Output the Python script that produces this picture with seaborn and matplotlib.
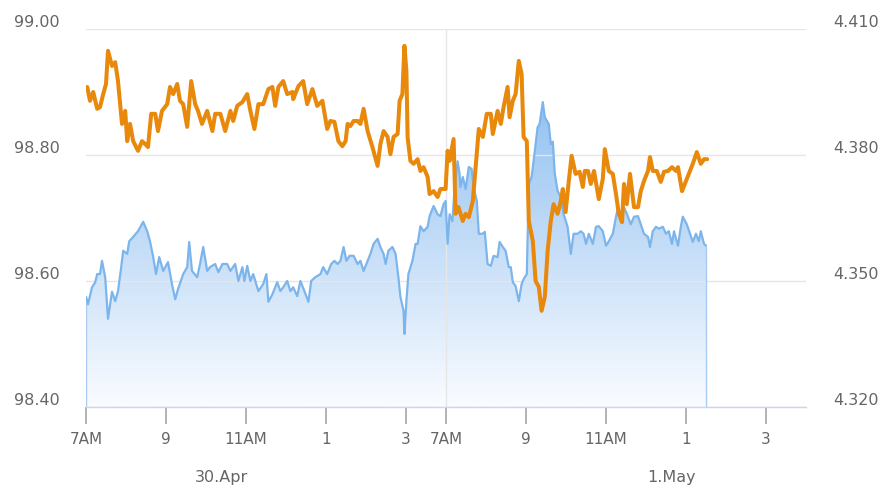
import numpy as np
import pandas as pd
import matplotlib.pyplot as plt
from matplotlib.colors import LinearSegmentedColormap
import seaborn as sns

# x = trading hours counted from 7AM 30.Apr (session 7AM-4PM, so 7AM 1.May sits at 9)
blue_x = [0.00, 0.05, 0.15, 0.23, 0.28, 0.35, 0.40, 0.48, 0.55, 0.65,
          0.73, 0.80, 0.88, 0.93, 1.03, 1.08, 1.18, 1.30, 1.43, 1.53,
          1.60, 1.68, 1.75, 1.83, 1.93, 2.05, 2.15, 2.23, 2.30, 2.43,
          2.53, 2.58, 2.65, 2.78, 2.85, 2.93, 3.03, 3.10, 3.23, 3.31,
          3.41, 3.53, 3.61, 3.73, 3.81, 3.91, 3.96, 4.03, 4.11, 4.18,
          4.31, 4.43, 4.51, 4.56, 4.66, 4.78, 4.86, 4.93, 5.03, 5.11,
          5.18, 5.28, 5.36, 5.46, 5.56, 5.63, 5.73, 5.86, 5.93, 6.03,
          6.13, 6.21, 6.29, 6.36, 6.44, 6.51, 6.59, 6.69, 6.79, 6.86,
          6.94, 7.04, 7.11, 7.19, 7.29, 7.36, 7.44, 7.49, 7.56, 7.66,
          7.74, 7.81, 7.86, 7.94, 7.96, 8.01, 8.06, 8.16, 8.24, 8.29,
          8.36, 8.44, 8.54, 8.59, 8.69, 8.79, 8.86, 8.94, 8.99, 9.04,
          9.09, 9.16, 9.21, 9.29, 9.34, 9.36, 9.42, 9.49, 9.57, 9.64,
          9.69, 9.77, 9.82, 9.92, 9.97, 10.04, 10.12, 10.19, 10.29, 10.34,
          10.42, 10.49, 10.57, 10.62, 10.67, 10.74, 10.82, 10.89, 10.94, 11.02,
          11.07, 11.14, 11.22, 11.29, 11.34, 11.42, 11.47, 11.57, 11.62, 11.67,
          11.72, 11.79, 11.87, 11.94, 12.04, 12.12, 12.19, 12.29, 12.37, 12.44,
          12.50, 12.57, 12.67, 12.75, 12.82, 12.92, 13.00, 13.07, 13.17, 13.25,
          13.30, 13.37, 13.45, 13.55, 13.62, 13.70, 13.80, 13.87, 13.95, 14.05,
          14.10, 14.17, 14.25, 14.32, 14.42, 14.50, 14.57, 14.65, 14.70, 14.80,
          14.87, 14.92, 15.02, 15.10, 15.17, 15.25, 15.32, 15.37, 15.45, 15.50]
blue_y = [98.575, 98.563, 98.590, 98.598, 98.611, 98.611, 98.632, 98.606, 98.540, 98.583,
          98.568, 98.584, 98.622, 98.648, 98.643, 98.663, 98.670, 98.679, 98.694, 98.679,
          98.663, 98.638, 98.611, 98.638, 98.616, 98.630, 98.595, 98.571, 98.587, 98.611,
          98.622, 98.662, 98.616, 98.606, 98.627, 98.654, 98.616, 98.622, 98.627, 98.614,
          98.627, 98.627, 98.616, 98.627, 98.600, 98.622, 98.600, 98.624, 98.600, 98.611,
          98.584, 98.595, 98.611, 98.567, 98.579, 98.598, 98.584, 98.590, 98.600, 98.584,
          98.590, 98.576, 98.600, 98.584, 98.567, 98.600, 98.606, 98.611, 98.622, 98.611,
          98.627, 98.632, 98.627, 98.632, 98.654, 98.632, 98.640, 98.640, 98.627, 98.632,
          98.616, 98.632, 98.643, 98.659, 98.667, 98.654, 98.643, 98.627, 98.648, 98.654,
          98.643, 98.606, 98.575, 98.552, 98.516, 98.568, 98.611, 98.632, 98.659, 98.659,
          98.687, 98.679, 98.686, 98.703, 98.719, 98.706, 98.703, 98.722, 98.727, 98.659,
          98.706, 98.695, 98.743, 98.790, 98.770, 98.749, 98.765, 98.746, 98.781, 98.778,
          98.749, 98.727, 98.675, 98.675, 98.678, 98.627, 98.624, 98.640, 98.638, 98.662,
          98.654, 98.648, 98.622, 98.622, 98.598, 98.592, 98.568, 98.595, 98.603, 98.611,
          98.754, 98.765, 98.806, 98.844, 98.849, 98.884, 98.860, 98.849, 98.817, 98.821,
          98.770, 98.743, 98.733, 98.706, 98.686, 98.643, 98.675, 98.675, 98.679, 98.675,
          98.659, 98.675, 98.659, 98.686, 98.687, 98.679, 98.656, 98.663, 98.675, 98.702,
          98.717, 98.695, 98.717, 98.702, 98.690, 98.702, 98.703, 98.690, 98.675, 98.670,
          98.654, 98.679, 98.686, 98.683, 98.686, 98.675, 98.679, 98.659, 98.679, 98.656,
          98.686, 98.702, 98.690, 98.675, 98.662, 98.675, 98.663, 98.679, 98.659, 98.656]

orange_x = [0.03, 0.10, 0.18, 0.28, 0.35, 0.43, 0.50, 0.55, 0.65, 0.73,
            0.80, 0.90, 0.98, 1.03, 1.10, 1.18, 1.30, 1.40, 1.48, 1.55,
            1.63, 1.73, 1.80, 1.90, 2.03, 2.10, 2.18, 2.28, 2.35, 2.43,
            2.53, 2.63, 2.73, 2.80, 2.90, 3.03,
            3.16, 3.23, 3.36, 3.48, 3.61, 3.68, 3.78, 3.91, 4.03, 4.11,
            4.21, 4.31, 4.43, 4.56, 4.66, 4.73, 4.81, 4.93, 5.03, 5.16,
            5.18, 5.31, 5.43, 5.53, 5.66, 5.78, 5.91, 6.03, 6.11, 6.21,
            6.31, 6.41, 6.49, 6.54, 6.61, 6.69, 6.79, 6.86, 6.94, 7.04,
            7.16, 7.29, 7.36, 7.44, 7.54, 7.61, 7.69, 7.79, 7.84, 7.91,
            7.96, 8.01, 8.04, 8.11, 8.19, 8.29, 8.36, 8.44, 8.54, 8.59,
            8.69, 8.79, 8.86, 8.99, 9.04, 9.09, 9.19, 9.24,
            9.31, 9.42, 9.49, 9.57, 9.67, 9.74, 9.82, 9.92, 10.02, 10.12,
            10.17, 10.29, 10.37, 10.44, 10.54, 10.59, 10.67, 10.74, 10.82, 10.89,
            10.94, 11.02, 11.07, 11.17, 11.24, 11.32, 11.39, 11.47, 11.54, 11.62,
            11.69, 11.79, 11.87, 11.92, 11.99, 12.07, 12.14, 12.24, 12.34, 12.42,
            12.47,
            12.55, 12.62, 12.70, 12.82, 12.92, 12.97, 13.07, 13.17, 13.25, 13.32,
            13.40, 13.45, 13.52, 13.60, 13.70, 13.80, 13.87, 13.95, 14.05, 14.10,
            14.17, 14.27, 14.37, 14.45, 14.55, 14.65, 14.75, 14.80, 14.90, 15.00,
            15.07, 15.17, 15.27, 15.37, 15.45, 15.53]
orange_y = [4.3962, 4.3929, 4.3950, 4.3910, 4.3914, 4.3945, 4.3969, 4.4048, 4.4012, 4.4021,
            4.3976, 4.3874, 4.3905, 4.3833, 4.3874, 4.3833, 4.3810, 4.3833, 4.3826, 4.3819,
            4.3898, 4.3898, 4.3857, 4.3905, 4.3921, 4.3962, 4.3945, 4.3969, 4.3929, 4.3921,
            4.3867, 4.3976, 4.3921, 4.3905, 4.3874, 4.3905,
            4.3857, 4.3898, 4.3898, 4.3857, 4.3905, 4.3881, 4.3917, 4.3926, 4.3945, 4.3905,
            4.3862, 4.3921, 4.3921, 4.3957, 4.3962, 4.3917, 4.3962, 4.3976, 4.3945, 4.3950,
            4.3933, 4.3964, 4.3976, 4.3921, 4.3957, 4.3917, 4.3929, 4.3862, 4.3881, 4.3879,
            4.3833, 4.3821, 4.3833, 4.3874, 4.3869, 4.3881, 4.3881, 4.3874, 4.3910, 4.3857,
            4.3819, 4.3774, 4.3826, 4.3857, 4.3843, 4.3802, 4.3843, 4.3850, 4.3929, 4.3945,
            4.4060, 4.4000, 4.3843, 4.3786, 4.3779, 4.3790, 4.3762, 4.3771, 4.3748, 4.3707,
            4.3714, 4.3700, 4.3719, 4.3719, 4.3810, 4.3786, 4.3838, 4.3660,
            4.3676, 4.3643, 4.3660, 4.3652, 4.3690, 4.3771, 4.3862, 4.3843, 4.3898, 4.3898,
            4.3850, 4.3905, 4.3874, 4.3914, 4.3962, 4.3890, 4.3929, 4.3945, 4.4024, 4.3993,
            4.3843, 4.3833, 4.3643, 4.3595, 4.3500, 4.3486, 4.3429, 4.3462, 4.3571, 4.3643,
            4.3683, 4.3660, 4.3690, 4.3719, 4.3664, 4.3738, 4.3798, 4.3755, 4.3760, 4.3724,
            4.3762,
            4.3762, 4.3731, 4.3762, 4.3695, 4.3743, 4.3814, 4.3762, 4.3755, 4.3707, 4.3660,
            4.3640, 4.3731, 4.3683, 4.3755, 4.3676, 4.3676, 4.3714, 4.3738, 4.3762, 4.3795,
            4.3762, 4.3762, 4.3736, 4.3760, 4.3762, 4.3771, 4.3762, 4.3771, 4.3714, 4.3738,
            4.3755, 4.3779, 4.3807, 4.3779, 4.3790, 4.3790]

tick_pos = [0, 2, 4, 6, 8, 9, 11, 13, 15, 17]
tick_labels = ["7AM", "9", "11AM", "1", "3", "7AM", "9", "11AM", "1", "3"]
date_pos = [3.38, 14.65]
date_labels = ["30.Apr", "1.May"]
left_ticks = [98.40, 98.60, 98.80, 99.00]
right_ticks = [4.320, 4.350, 4.380, 4.410]

sns.set_theme(style="white")
plt.rcParams["font.family"] = ["DejaVu Sans"]

grey = "#666666"
fig = plt.figure(figsize=(8.81, 4.89), dpi=100)
ax = fig.add_axes([86 / 881, 1 - 408 / 489, 720 / 881, 378 / 489])
ax2 = ax.twinx()

blue = pd.DataFrame({"t": blue_x, "v": blue_y})
orange = pd.DataFrame({"t": orange_x, "v": orange_y})
y0, y1 = left_ticks[0], left_ticks[-1]

# gradient area under the blue series
area = ax.fill_between(blue.t, blue.v, y0, color="none", lw=0)
cmap = LinearSegmentedColormap.from_list("area", ["#fafcff", "#7cb4ee"])
grad = np.linspace(1, 0, 256).reshape(-1, 1)
img = ax.imshow(grad, cmap=cmap, aspect="auto", origin="upper",
                extent=[0, 18, y0, y1], zorder=1)
img.set_clip_path(area.get_paths()[0], transform=ax.transData)
ax.vlines([blue.t.iloc[0], blue.t.iloc[-1]], y0, [blue.v.iloc[0], blue.v.iloc[-1]],
          color="#a9cbf2", lw=1, zorder=1.6)

sns.lineplot(data=blue, x="t", y="v", ax=ax, color="#7cb5ec", lw=1.6,
             estimator=None, sort=False, zorder=2)
sns.lineplot(data=orange, x="t", y="v", ax=ax2, color="#e8890c", lw=2.9,
             estimator=None, sort=False)

ax.axvline(9, color="#e6e6e6", lw=1, zorder=1.5)
ax.set_xlim(0, 18)
ax.set_ylim(y0, y1)
ax2.set_ylim(right_ticks[0], right_ticks[-1])
ax.set_xlabel("")
ax.set_ylabel("")
ax2.set_ylabel("")

ax.set_xticks(tick_pos)
ax.set_xticklabels(tick_labels)
ax.set_yticks(left_ticks)
ax.set_yticklabels([f"{v:.2f}" for v in left_ticks])
ax2.set_yticks(right_ticks)
ax2.set_yticklabels([f"{v:.3f}" for v in right_ticks])

ax.set_axisbelow("line")
ax.grid(axis="y", color="#e6e6e6", lw=1)
ax.grid(axis="x", visible=False)
ax2.grid(False)

ax.tick_params(axis="x", bottom=True, length=12, width=1.2, color="#a6a6a6",
               labelsize=11, labelcolor=grey, pad=5)
ax.tick_params(axis="y", left=False, length=0, labelsize=11.5, labelcolor=grey, pad=19)
ax2.tick_params(axis="y", right=False, length=0, labelsize=11.5, labelcolor=grey, pad=19.5)
for lab in ax.get_yticklabels() + ax2.get_yticklabels():
    lab.set_va("bottom")

for a in (ax, ax2):
    for s in a.spines.values():
        s.set_visible(False)
ax.spines["bottom"].set_visible(True)
ax.spines["bottom"].set_color("#ccd6eb")
ax.spines["bottom"].set_linewidth(1)

for p, lab in zip(date_pos, date_labels):
    ax.text(p, -0.185, lab, transform=ax.get_xaxis_transform(), ha="center",
            va="center", fontsize=11.5, color=grey)

fig.savefig("out.png", dpi=100)
